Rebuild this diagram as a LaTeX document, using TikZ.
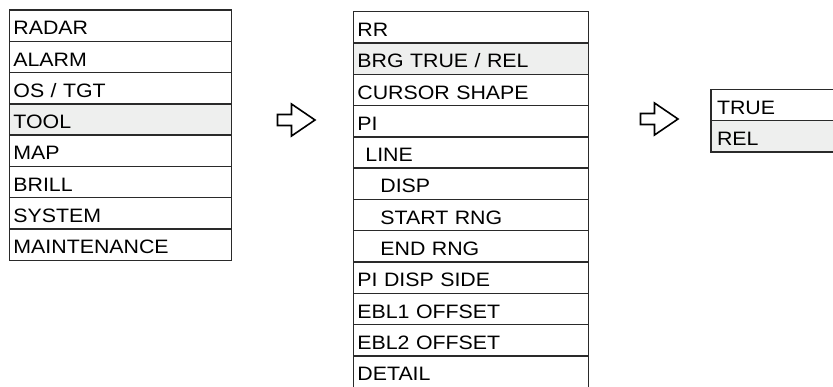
\documentclass[tikz,border=0pt]{standalone}
\usepackage{fontspec}
\setmainfont[FakeStretch=1.1]{Liberation Sans}
\definecolor{hl}{HTML}{EEEFEE}
\definecolor{ln}{HTML}{2A2A2A}
\begin{document}
\begin{tikzpicture}[x=1pt,y=-1pt,
  menurow/.style={draw=ln, line width=1.4pt, anchor=north west, minimum height=31.3pt,
    inner ysep=0pt, inner xsep=4pt, text height=18.3pt, text depth=0pt, align=left,
    font=\fontsize{19.4pt}{21pt}\selectfont},
  leftrow/.style={menurow, text width=213.8pt},
  midrow/.style={menurow, text width=227pt},
  rightrow/.style={menurow, text width=200pt},
  sel/.style={fill=hl},
  blockarrow/.style={draw=black, line width=1.6pt, line join=miter, fill=white}]
\useasboundingbox (0,0) rectangle (833,387);
\clip (0,0) rectangle (833,387);
% left menu
\foreach \t [count=\i] in {RADAR,ALARM,OS / TGT,TOOL,MAP,BRILL,SYSTEM,MAINTENANCE}{
  \ifnum\i=4
    \node[leftrow, sel] (L\i) at (8.7,{9.3+(\i-1)*31.3}) {\t};
  \else
    \node[leftrow] (L\i) at (8.7,{9.3+(\i-1)*31.3}) {\t};
  \fi
}
% middle menu
\foreach \t [count=\i] in {RR,BRG TRUE / REL,CURSOR SHAPE,PI,\hspace*{8pt}LINE,\hspace*{23pt}DISP,\hspace*{23pt}START RNG,\hspace*{23pt}END RNG,PI DISP SIDE,EBL1 OFFSET,EBL2 OFFSET,DETAIL}{
  \ifnum\i=2
    \node[midrow, sel] (M\i) at (352.7,{11+(\i-1)*31.3}) {\t};
  \else
    \node[midrow] (M\i) at (352.7,{11+(\i-1)*31.3}) {\t};
  \fi
}
% right menu
\node[rightrow] (R1) at (710.3,89) {\hspace*{2pt}TRUE};
\node[rightrow, sel] (R2) at (710.3,120) {\hspace*{2pt}REL};
% block arrows
\coordinate (A1) at (277.5,104);
\coordinate (A2) at (640.5,103);
\foreach \a in {A1,A2}{
  \draw[blockarrow] (\a) ++(0,10.5) -- ++(14,0) -- ++(0,-10.5) -- ++(23.5,16)
     -- ++(-23.5,16) -- ++(0,-10.5) -- ++(-14,0) -- cycle;
}
\end{tikzpicture}
\end{document}
